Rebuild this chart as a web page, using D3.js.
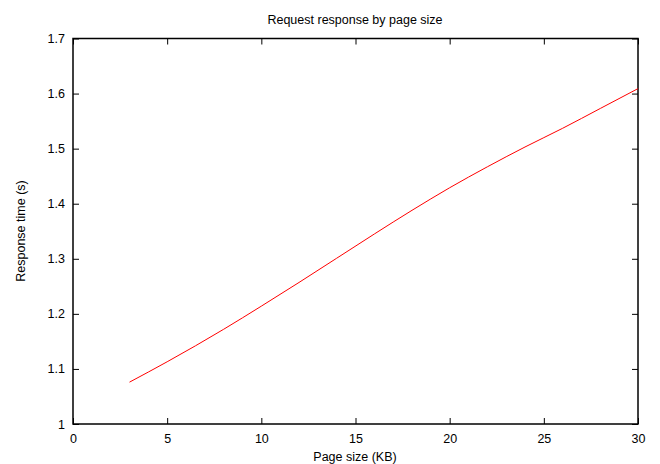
<!DOCTYPE html>
<html>
<head>
<meta charset="utf-8">
<script src="https://cdn.jsdelivr.net/npm/d3@7"></script>
<style>
  body { margin: 0; background: #fff; }
  text { font-family: "Liberation Sans", Arial, sans-serif; font-size: 12.5px; fill: #000; }
</style>
</head>
<body>
<div id="chart"></div>
<script>
// data
var pageSize = [3, 5, 8, 10, 12, 14, 16, 18, 20, 22, 24, 26, 28, 30];
var responseTime = [1.076, 1.113, 1.172, 1.214, 1.257, 1.301, 1.345, 1.388, 1.429, 1.467, 1.503, 1.537, 1.573, 1.609];
var xTicks = [0, 5, 10, 15, 20, 25, 30];
var yTicks = [1, 1.1, 1.2, 1.3, 1.4, 1.5, 1.6, 1.7];

var svgWidth = 660;
var svgHeight = 464;

var margin = { top: 38.5, right: 22, bottom: 40, left: 73 };
var width = 638 - margin.left;
var height = 424 - margin.top;

var svg = d3.select("#chart")
  .append("svg")
  .attr("width", svgWidth)
  .attr("height", svgHeight);

var chartGroup = svg.append("g")
  .attr("transform", `translate(${margin.left}, ${margin.top})`);

var x = d3.scaleLinear().domain([0, 30]).range([0, width]);
var y = d3.scaleLinear().domain([1, 1.7]).range([height, 0]);

// inward ticks on all four sides, gnuplot style
function styleAxis(g) {
  g.select(".domain").remove();
  g.selectAll(".tick line").attr("stroke", "#000").attr("stroke-width", 1);
  g.selectAll("text").attr("font-size", null).attr("font-family", null);
}

chartGroup.append("g")
  .attr("transform", `translate(0, ${height})`)
  .call(d3.axisBottom(x).tickValues(xTicks).tickSizeInner(-6).tickPadding(10).tickFormat(d3.format("d")))
  .call(styleAxis);

chartGroup.append("g")
  .call(d3.axisTop(x).tickValues(xTicks).tickSizeInner(-6).tickFormat(""))
  .call(styleAxis);

chartGroup.append("g")
  .call(d3.axisLeft(y).tickValues(yTicks).tickSizeInner(-6).tickPadding(8).tickFormat(d => d3.format("")(+d.toFixed(1))))
  .call(styleAxis);

chartGroup.append("g")
  .attr("transform", `translate(${width}, 0)`)
  .call(d3.axisRight(y).tickValues(yTicks).tickSizeInner(-6).tickFormat(""))
  .call(styleAxis);

// frame
chartGroup.append("rect")
  .attr("x", 0)
  .attr("y", 0)
  .attr("width", width)
  .attr("height", height)
  .attr("fill", "none")
  .attr("stroke", "#000")
  .attr("stroke-width", 1.5);

// the curve
var line = d3.line()
  .x((d, i) => x(pageSize[i]))
  .y((d, i) => y(responseTime[i]))
  .curve(d3.curveMonotoneX);

chartGroup.append("path")
  .datum(responseTime)
  .attr("d", line)
  .attr("fill", "none")
  .attr("stroke", "#ff0000")
  .attr("stroke-width", 1);

// title and axis labels
svg.append("text")
  .attr("x", 355)
  .attr("y", 24)
  .attr("text-anchor", "middle")
  .text("Request response by page size");

svg.append("text")
  .attr("x", 355)
  .attr("y", 461)
  .attr("text-anchor", "middle")
  .text("Page size (KB)");

svg.append("text")
  .attr("transform", "rotate(-90)")
  .attr("x", -231)
  .attr("y", 25)
  .attr("text-anchor", "middle")
  .text("Response time (s)");
</script>
</body>
</html>
